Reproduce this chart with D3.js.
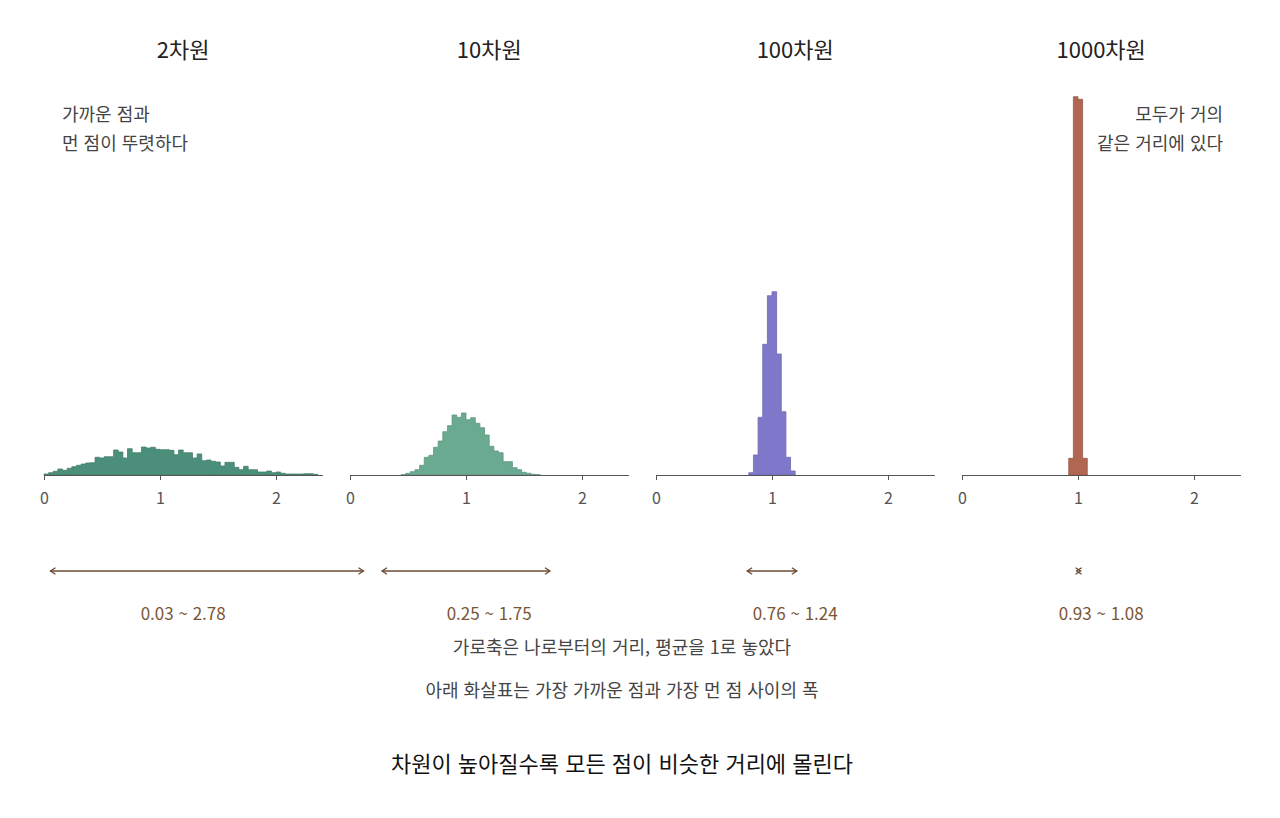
<!doctype html>
<html lang="ko">
  <head>
    <meta charset="UTF-8" />
    <title>차원과 거리</title>
    <style>
      body { margin: 0; background: #fff; }
      svg text { font-family: "Noto Sans CJK KR", "Noto Sans", sans-serif; }
    </style>
  </head>
  <body>
    <svg id="chart"></svg>
    <script src="https://d3js.org/d3.v7.min.js"></script>
    <script>
      /* global d3 */

      const width = 1280,
        height = 818;

      // histogram data: bin width 0.04, each panel starts at its own bin
      const binWidth = 0.04;
      const panelTitles = ["2차원", "10차원", "100차원", "1000차원"];
      const binStarts = [0, 0.44, 0.8, 0.92];
      const counts2 = [
        1, 2.3, 3.7, 6, 4.7, 6.7, 8.3, 9.7, 11, 12, 12.3, 17.7, 17, 18.3, 18.3,
        25, 23, 17, 26.3, 22.3, 22.3, 28, 27, 27.7, 25.7, 25.3, 25.3, 24.7,
        20.3, 25, 22.3, 22.3, 17, 21, 14.3, 15, 13.7, 13, 9, 12.7, 12.7, 7.7,
        5.3, 8.7, 5.3, 5.3, 3, 3, 4, 2.3, 3, 1.7, 1, 1, 1, 1, 1.3, 1.3, 0.7,
      ];
      const counts10 = [
        0.3, 1.7, 3.3, 5.3, 9.7, 17.7, 19.7, 27.7, 34, 43.3, 49.3, 60, 57.7, 62,
        55.3, 57.3, 51.7, 47.3, 40, 28.7, 24, 22.3, 13.3, 13.3, 7.3, 5.3, 2.7,
        1.7, 0.7, 0.3,
      ];
      const counts100 = [2.3, 20, 57.7, 130.7, 179.3, 183.3, 121, 63.3, 17.7, 4];
      const counts1000 = [16.7, 378.3, 375.7, 16.7];
      const allCounts = [counts2, counts10, counts100, counts1000];
      const colors = ["#4b8f7a", "#6aaa91", "#7f77c9", "#b06650"];

      // nearest ~ farthest distance
      const rangeMin = [0.03, 0.25, 0.76, 0.93];
      const rangeMax = [2.78, 1.75, 1.24, 1.08];
      const xTicks = [0, 1, 2];

      const noteLeft = ["가까운 점과", "먼 점이 뚜렷하다"];
      const noteRight = ["모두가 거의", "같은 거리에 있다"];
      const captions = [
        "가로축은 나로부터의 거리, 평균을 1로 놓았다",
        "아래 화살표는 가장 가까운 점과 가장 먼 점 사이의 폭",
      ];
      const headline = "차원이 높아질수록 모든 점이 비슷한 거리에 몰린다";

      const panelLeft = 44,
        panelStep = 306,
        panelWidth = 278.4,
        baseY = 475,
        arrowY = 571;

      const svg = d3
        .select("#chart")
        .attr("width", width)
        .attr("height", height)
        .attr("viewBox", [0, 0, width, height]);

      const yScale = d3.scaleLinear().domain([0, 400]).range([baseY, 75]);

      const arrowColor = "#6b4a33";

      panelTitles.forEach((title, i) => {
        const x0 = panelLeft + i * panelStep;
        const xScale = d3
          .scaleLinear()
          .domain([0, 2.4])
          .range([x0, x0 + panelWidth]);
        const cx = x0 + panelWidth / 2;

        // histogram as a step area
        const pts = allCounts[i].map((c, k) => ({
          x: binStarts[i] + k * binWidth,
          y: c,
        }));
        const last = pts[pts.length - 1];
        pts.push({ x: last.x + binWidth, y: last.y });
        const area = d3
          .area()
          .curve(d3.curveStepAfter)
          .x((d) => xScale(d.x))
          .y0(baseY)
          .y1((d) => yScale(d.y));
        svg
          .append("path")
          .datum(pts)
          .attr("d", area)
          .attr("fill", colors[i])
          .attr("stroke", d3.color(colors[i]).darker(0.35))
          .attr("stroke-width", 0.8);

        // axis
        const axis = svg
          .append("g")
          .attr("transform", `translate(0, ${baseY})`)
          .call(
            d3
              .axisBottom(xScale)
              .tickValues(xTicks)
              .tickFormat(d3.format("d"))
              .tickSize(5)
              .tickSizeOuter(0)
              .tickPadding(13)
          );
        axis.select(".domain").attr("stroke", "#555");
        axis.selectAll(".tick line").attr("stroke", "#555");
        axis
          .selectAll(".tick text")
          .attr("fill", "#555")
          .style("font-size", "16px");

        // title
        svg
          .append("text")
          .attr("x", cx)
          .attr("y", 58)
          .attr("text-anchor", "middle")
          .attr("fill", "#222")
          .style("font-size", "22px")
          .text(title);

        // range arrow; when the span is too short the two heads flip and cross
        const head = 5;
        let ta = xScale(rangeMin[i]) + 3,
          tb = xScale(rangeMax[i]) - 3,
          dir = 1;
        const g = svg
          .append("g")
          .attr("stroke", arrowColor)
          .attr("fill", "none")
          .attr("stroke-width", 1.3);
        if (tb - ta > 3 * head) {
          g.append("line")
            .attr("x1", ta)
            .attr("x2", tb)
            .attr("y1", arrowY)
            .attr("y2", arrowY);
        } else {
          const m = (ta + tb) / 2;
          ta = m + 2;
          tb = m - 2;
          dir = -1;
        }
        g.append("path").attr(
          "d",
          `M${ta + dir * head},${arrowY - 3.2}L${ta},${arrowY}L${ta + dir * head},${arrowY + 3.2}`
        );
        g.append("path").attr(
          "d",
          `M${tb - dir * head},${arrowY - 3.2}L${tb},${arrowY}L${tb - dir * head},${arrowY + 3.2}`
        );

        svg
          .append("text")
          .attr("x", cx)
          .attr("y", 620)
          .attr("text-anchor", "middle")
          .attr("fill", "#7a5535")
          .style("font-size", "17px")
          .text(`${rangeMin[i].toFixed(2)} ~ ${rangeMax[i].toFixed(2)}`);
      });

      // notes
      noteLeft.forEach((t, k) => {
        svg
          .append("text")
          .attr("x", 62)
          .attr("y", 121 + k * 29)
          .attr("fill", "#444")
          .style("font-size", "18px")
          .text(t);
      });
      noteRight.forEach((t, k) => {
        svg
          .append("text")
          .attr("x", 1223)
          .attr("y", 121 + k * 29)
          .attr("text-anchor", "end")
          .attr("fill", "#444")
          .style("font-size", "18px")
          .text(t);
      });

      captions.forEach((t, k) => {
        svg
          .append("text")
          .attr("x", 622)
          .attr("y", 654 + k * 43)
          .attr("text-anchor", "middle")
          .attr("fill", "#444")
          .style("font-size", "18px")
          .text(t);
      });

      svg
        .append("text")
        .attr("x", 622)
        .attr("y", 772)
        .attr("text-anchor", "middle")
        .attr("fill", "#111")
        .style("font-size", "22px")
        .text(headline);
    </script>
  </body>
</html>
